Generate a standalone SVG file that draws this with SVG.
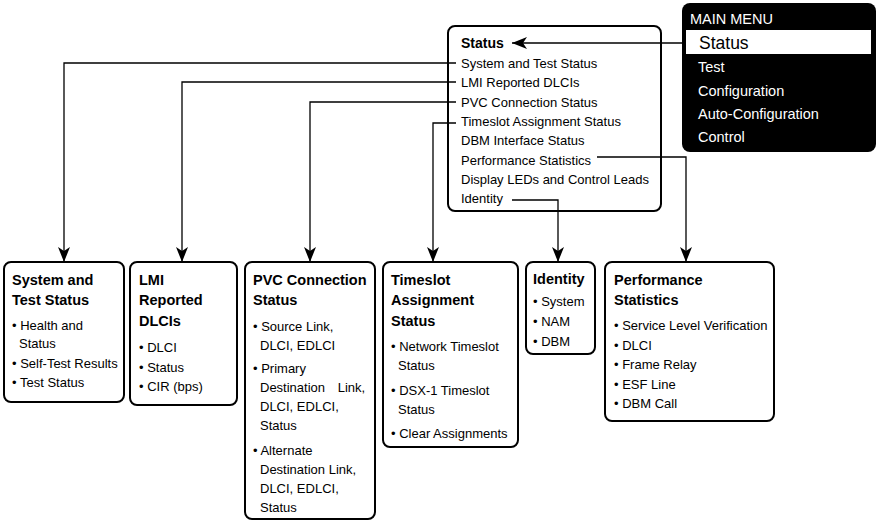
<svg xmlns="http://www.w3.org/2000/svg" width="878" height="522" viewBox="0 0 878 522">
<defs>
<marker id="arr" viewBox="0 0 15 12" refX="15" refY="6" markerWidth="15" markerHeight="12" markerUnits="userSpaceOnUse" orient="auto">
<path d="M0,0 L15,6 L0,12 L4,6 Z" fill="#000"/>
</marker>
<style>
.box{fill:#fff;stroke:#000;stroke-width:2}
.t{font-family:"Liberation Sans",Arial,sans-serif;font-size:13px;fill:#000}
.h{font-family:"Liberation Sans",Arial,sans-serif;font-size:14.5px;font-weight:bold;fill:#000}
.m{font-family:"Liberation Sans",Arial,sans-serif;font-size:14.5px;fill:#fff}
.c{fill:none;stroke:#000;stroke-width:1.3}
</style>
</defs>
<rect width="878" height="522" fill="#fff"/>

<g id="main-menu">
<rect x="682" y="3" width="194" height="149" rx="8" fill="#000"/>
<rect x="686" y="30" width="185" height="24" fill="#fff"/>
<text class="m" x="690" y="24">MAIN MENU</text>
<text x="699" y="49" style="font-family:'Liberation Sans',Arial,sans-serif;font-size:17.5px;fill:#000">Status</text>
<text class="m" x="698" y="72">Test</text>
<text class="m" x="698" y="96">Configuration</text>
<text class="m" x="698" y="119">Auto-Configuration</text>
<text class="m" x="698" y="142">Control</text>
</g>

<g id="status-menu">
<rect class="box" x="448" y="26" width="213" height="185" rx="7"/>
<text x="461" y="48" style="font-family:'Liberation Sans',Arial,sans-serif;font-size:14px;font-weight:bold">Status</text>
<text class="t" x="461" y="68">System and Test Status</text>
<text class="t" x="461" y="87">LMI Reported DLCIs</text>
<text class="t" x="461" y="107">PVC Connection Status</text>
<text class="t" x="461" y="126">Timeslot Assignment Status</text>
<text class="t" x="461" y="145">DBM Interface Status</text>
<text class="t" x="461" y="165">Performance Statistics</text>
<text class="t" x="461" y="184">Display LEDs and Control Leads</text>
<text class="t" x="461" y="203">Identity</text>
</g>

<g id="system-test-status">
<rect class="box" x="4" y="262" width="120" height="140" rx="7"/>
<text class="h" x="12" y="285">System and</text>
<text class="h" x="12" y="305">Test Status</text>
<text class="t" x="12" y="330">• Health and</text>
<text class="t" x="19" y="348">Status</text>
<text class="t" x="12" y="368">• Self-Test Results</text>
<text class="t" x="12" y="387">• Test Status</text>
</g>

<g id="lmi-reported-dlcis">
<rect class="box" x="130" y="262" width="107" height="143" rx="7"/>
<text class="h" x="139" y="285">LMI</text>
<text class="h" x="139" y="305">Reported</text>
<text class="h" x="139" y="326">DLCIs</text>
<text class="t" x="139" y="352">• DLCI</text>
<text class="t" x="139" y="372">• Status</text>
<text class="t" x="139" y="391">• CIR (bps)</text>
</g>

<g id="pvc-connection-status">
<rect class="box" x="245" y="262" width="130" height="257" rx="7"/>
<text class="h" x="253" y="285">PVC Connection</text>
<text class="h" x="253" y="305">Status</text>
<text class="t" x="253" y="331">• Source Link,</text>
<text class="t" x="260" y="350">DLCI, EDLCI</text>
<text class="t" x="253" y="373">• Primary</text>
<text class="t" x="260" y="392" word-spacing="9">Destination Link,</text>
<text class="t" x="260" y="411">DLCI, EDLCI,</text>
<text class="t" x="260" y="430">Status</text>
<text class="t" x="253" y="455">• Alternate</text>
<text class="t" x="260" y="474">Destination Link,</text>
<text class="t" x="260" y="493">DLCI, EDLCI,</text>
<text class="t" x="260" y="512">Status</text>
</g>

<g id="timeslot-assignment-status">
<rect class="box" x="383" y="262" width="135" height="185" rx="7"/>
<text class="h" x="391" y="285">Timeslot</text>
<text class="h" x="391" y="305">Assignment</text>
<text class="h" x="391" y="326">Status</text>
<text class="t" x="391" y="351">• Network Timeslot</text>
<text class="t" x="398" y="370">Status</text>
<text class="t" x="391" y="395">• DSX-1 Timeslot</text>
<text class="t" x="398" y="414">Status</text>
<text class="t" x="391" y="438">• Clear Assignments</text>
</g>

<g id="identity">
<rect class="box" x="526" y="262" width="69" height="92" rx="7"/>
<text class="h" x="533" y="284">Identity</text>
<text class="t" x="533" y="306">• System</text>
<text class="t" x="533" y="326">• NAM</text>
<text class="t" x="533" y="346">• DBM</text>
</g>

<g id="performance-statistics">
<rect class="box" x="605" y="262" width="169" height="159" rx="7"/>
<text class="h" x="614" y="285">Performance</text>
<text class="h" x="614" y="305">Statistics</text>
<text class="t" x="614" y="330">• Service Level Verification</text>
<text class="t" x="614" y="350">• DLCI</text>
<text class="t" x="614" y="369">• Frame Relay</text>
<text class="t" x="614" y="389">• ESF Line</text>
<text class="t" x="614" y="408">• DBM Call</text>
</g>

<g id="connectors">
<path class="c" d="M456,63 H64 V262" marker-end="url(#arr)"/>
<path class="c" d="M456,82 H182 V262" marker-end="url(#arr)"/>
<path class="c" d="M456,102 H310 V262" marker-end="url(#arr)"/>
<path class="c" d="M456,123 H433 V262" marker-end="url(#arr)"/>
<path class="c" d="M512,200 H558 V262" marker-end="url(#arr)"/>
<path class="c" d="M597,157 H686 V262" marker-end="url(#arr)"/>
<path class="c" d="M682,43 H512" marker-end="url(#arr)"/>
</g>
</svg>
